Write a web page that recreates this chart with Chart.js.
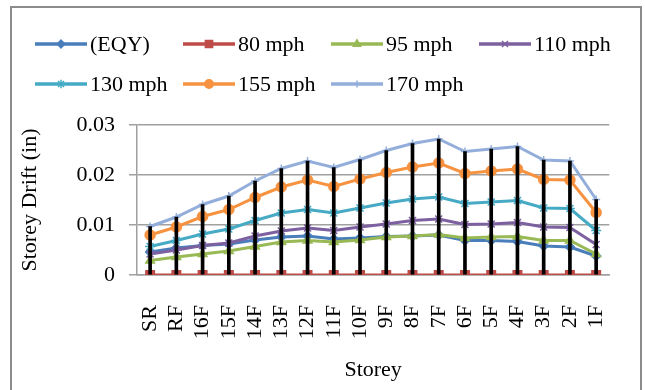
<!DOCTYPE html>
<html>
<head>
<meta charset="utf-8">
<script src="https://cdn.jsdelivr.net/npm/chart.js@4/dist/chart.umd.min.js"></script>
<style>
  html, body { margin: 0; padding: 0; background: #ffffff; }
  #wrap { width: 645px; height: 390px; position: relative; }
</style>
</head>
<body>
<div id="wrap"><canvas id="c" width="645" height="390"></canvas></div>
<script>
const categories = ['SR','RF','16F','15F','14F','13F','12F','11F','10F','9F','8F','7F','6F','5F','4F','3F','2F','1F'];
const seriesNames = ['(EQY)','80 mph','95 mph','110 mph','130 mph','155 mph','170 mph'];
const eqy    = [0.0046,0.0054,0.0059,0.0062,0.0070,0.0076,0.0078,0.0072,0.0074,0.0077,0.0078,0.0080,0.0069,0.0069,0.0067,0.0058,0.0056,0.0038];
const mph80  = [0,0,0,0,0,0,0,0,0,0,0,0,0,0,0,0,0,0];
const mph95  = [0.0029,0.0036,0.0042,0.0048,0.0057,0.0066,0.0069,0.0066,0.0070,0.0076,0.0078,0.0081,0.0074,0.0076,0.0077,0.0069,0.0069,0.0042];
const mph110 = [0.0042,0.0050,0.0059,0.0064,0.0078,0.0088,0.0094,0.0089,0.0096,0.0102,0.0109,0.0112,0.0101,0.0102,0.0105,0.0096,0.0095,0.0061];
const mph130 = [0.0057,0.0069,0.0082,0.0092,0.0109,0.0124,0.0131,0.0124,0.0134,0.0144,0.0152,0.0156,0.0143,0.0146,0.0149,0.0134,0.0133,0.0089];
const mph155 = [0.0080,0.0096,0.0117,0.0131,0.0155,0.0176,0.0190,0.0177,0.0192,0.0205,0.0216,0.0224,0.0203,0.0208,0.0212,0.0191,0.0190,0.0125];
const mph170 = [0.0097,0.0116,0.0141,0.0158,0.0188,0.0213,0.0228,0.0215,0.0231,0.0249,0.0263,0.0272,0.0247,0.0252,0.0257,0.0230,0.0228,0.0151];
const yTicks = [0, 0.01, 0.02, 0.03];

const allSeries = [eqy, mph80, mph95, mph110, mph130, mph155, mph170];
const colors = ['#4A7EBB','#BE4B48','#98B954','#7D60A0','#46AAC5','#F69240','#93AEDA'];
const styles = ['rectRot','rect','triangle','crossRot','star','circle','cross'];
const radii  = [4.5, 6, 5, 5, 5, 5, 4];

const FONT = "'Liberation Serif', 'Times New Roman', serif";

const lineSets = allSeries.map((vals, i) => ({
  type: 'line',
  label: seriesNames[i],
  data: vals,
  borderColor: colors[i],
  backgroundColor: colors[i],
  pointBackgroundColor: colors[i],
  pointBorderColor: colors[i],
  borderWidth: 3,
  pointStyle: styles[i],
  pointRadius: radii[i],
  pointBorderWidth: 1.5,
  tension: 0,
  fill: false,
  order: 10 - i
}));

const hiLo = {
  type: 'bar',
  label: 'hilo',
  data: categories.map((_, k) => {
    const vals = allSeries.map(s => s[k]);
    return [Math.min(...vals), Math.max(...vals)];
  }),
  backgroundColor: '#000000',
  borderWidth: 0,
  barThickness: 3,
  order: 0
};

const bgPlugin = {
  id: 'bgBorder',
  beforeDraw(chart) {
    const ctx = chart.ctx;
    ctx.save();
    ctx.fillStyle = '#ffffff';
    ctx.fillRect(0, 0, chart.width, chart.height);
    ctx.strokeStyle = '#8c8c8c';
    ctx.lineWidth = 2;
    ctx.strokeRect(11, 7, 630, 420);
    ctx.restore();
  }
};

const legendPlugin = {
  id: 'gridLegend',
  afterDraw(chart) {
    const ctx = chart.ctx;
    const sets = chart.data.datasets.filter(d => d.type === 'line');
    sets.forEach((d, i) => {
      const col = i % 4, row = Math.floor(i / 4);
      const x0 = 35 + col * 148;
      const y = 44 + row * 40;
      ctx.save();
      ctx.strokeStyle = d.borderColor;
      ctx.lineWidth = 3.5;
      ctx.beginPath();
      ctx.moveTo(x0, y);
      ctx.lineTo(x0 + 52, y);
      ctx.stroke();
      ctx.fillStyle = d.borderColor;
      ctx.strokeStyle = d.borderColor;
      ctx.lineWidth = 1.5;
      Chart.helpers.drawPoint(ctx, {pointStyle: d.pointStyle, radius: d.pointRadius * 0.85, borderWidth: 1.5, rotation: 0}, x0 + 26, y);
      ctx.fillStyle = '#000000';
      ctx.font = '22px ' + FONT;
      ctx.textBaseline = 'middle';
      ctx.textAlign = 'left';
      ctx.fillText(d.label, x0 + 55, y + 1);
      ctx.restore();
    });
  }
};

new Chart(document.getElementById('c'), {
  data: {
    labels: categories,
    datasets: [hiLo, ...lineSets]
  },
  options: {
    responsive: false,
    animation: false,
    devicePixelRatio: 1,
    layout: { padding: { left: 12, right: 16, top: 125, bottom: 0 } },
    plugins: {
      legend: { display: false },
      tooltip: { enabled: false },
      title: { display: false }
    },
    scales: {
      x: {
        type: 'category',
        offset: true,
        grid: { display: false },
        border: { display: true, color: '#a0a0a0', width: 1.5 },
        ticks: {
          color: '#000000',
          font: { family: FONT, size: 22 },
          minRotation: 90,
          maxRotation: 90,
          autoSkip: false,
          padding: 22
        },
        title: {
          display: true,
          text: 'Storey',
          color: '#000000',
          font: { family: FONT, size: 22 },
          padding: { top: 4, bottom: 7 }
        },
        afterFit(scale) { scale.height = 115; }
      },
      y: {
        min: 0,
        max: 0.03,
        afterBuildTicks(scale) { scale.ticks = yTicks.map(v => ({ value: v })); },
        grid: { color: '#a0a0a0', lineWidth: 1.5, tickLength: 8, drawTicks: true },
        border: { display: true, color: '#a0a0a0', width: 1.5 },
        ticks: {
          color: '#000000',
          font: { family: FONT, size: 22 },
          padding: 14,
          callback: v => (v === 0 ? '0' : v.toFixed(2))
        },
        title: {
          display: true,
          text: 'Storey Drift (in)',
          color: '#000000',
          font: { family: FONT, size: 22 },
          padding: { top: 5, bottom: 4 }
        },
        afterFit(scale) { scale.width = 125; }
      }
    }
  },
  plugins: [bgPlugin, legendPlugin]
});
</script>
</body>
</html>
